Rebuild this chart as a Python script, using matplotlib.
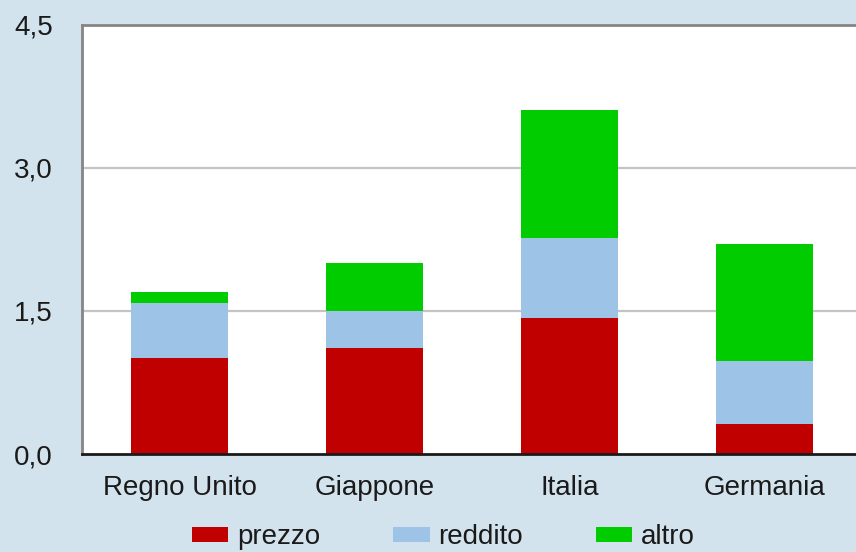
"""
    Grafico a barre impilate: scomposizione per paese
"""
import numpy as np
import matplotlib.pyplot as plt
from matplotlib.ticker import FixedLocator

# Dati
paesi = ['Regno Unito', 'Giappone', 'Italia', 'Germania']
prezzo = [1.01, 1.11, 1.42, 0.31]
reddito = [0.57, 0.39, 0.84, 0.66]
altro = [0.12, 0.50, 1.34, 1.23]
tick_y = [0.0, 1.5, 3.0, 4.5]
etichette_y = ['0,0', '1,5', '3,0', '4,5']

plt.rcParams['font.family'] = ['Liberation Sans', 'DejaVu Sans']

fig = plt.figure(figsize=(8.56, 5.52), dpi=100)
fig.patch.set_facecolor('#d3e3ed')
ax = fig.add_axes([82 / 856, 98 / 552, 780 / 856, 429.5 / 552])

x = np.arange(len(paesi))
base2 = np.array(prezzo)
base3 = base2 + np.array(reddito)
ax.bar(x, prezzo, width=0.5, color='#c00000', label='prezzo', zorder=2)
ax.bar(x, reddito, width=0.5, bottom=base2, color='#9dc3e6', label='reddito', zorder=2)
ax.bar(x, altro, width=0.5, bottom=base3, color='#00cc00', label='altro', zorder=2)

ax.set_xlim(-0.5, 3.5)
ax.set_ylim(0, 4.5)
ax.yaxis.set_major_locator(FixedLocator(tick_y))
ax.set_yticklabels(etichette_y)
ax.set_xticks(x)
ax.set_xticklabels(paesi)
ax.tick_params(axis='both', length=0, labelsize=20, colors='#1a1a1a')
ax.tick_params(axis='y', pad=21)
ax.tick_params(axis='x', pad=15)
for v in tick_y[1:3]:
    ax.axhline(v, color='#c4c4c4', linewidth=1.6, zorder=1)

# Bordi
ax.spines['left'].set_color('#858585')
ax.spines['left'].set_linewidth(2)
ax.spines['top'].set_color('#858585')
ax.spines['top'].set_linewidth(2)
ax.spines['bottom'].set_color('#1a1a1a')
ax.spines['bottom'].set_linewidth(2)
ax.spines['right'].set_visible(False)

fig.legend(loc='center', bbox_to_anchor=(0.518, 0.027), ncol=3, frameon=False,
           fontsize=20, handlelength=1.3, handleheight=0.47, handletextpad=0.3,
           columnspacing=2.65, borderpad=0, labelcolor='#1a1a1a')

fig.savefig('out.png', dpi=100, facecolor=fig.get_facecolor())
